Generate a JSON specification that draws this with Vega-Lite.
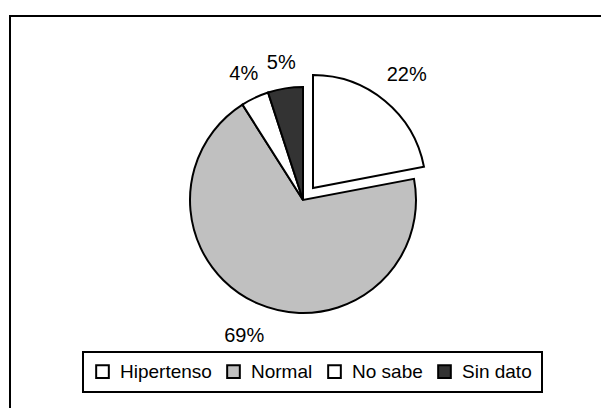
{
  "$schema": "https://vega.github.io/schema/vega-lite/v6.json",
  "width": 600,
  "height": 400,
  "padding": {"left": 9, "top": 15, "right": 0, "bottom": 0},
  "background": "white",
  "config": {
    "view": {"stroke": "black", "strokeWidth": 2},
    "font": "Liberation Sans"
  },
  "data": {
    "values": [
      {"cat": "Hipertenso", "value": 22, "orden": 1, "label": "22%"},
      {"cat": "Normal", "value": 69, "orden": 2, "label": "69%"},
      {"cat": "No sabe", "value": 4, "orden": 3, "label": "4%"},
      {"cat": "Sin dato", "value": 5, "orden": 4, "label": "5%"}
    ]
  },
  "transform": [
    {"stack": "value", "groupby": [], "sort": [{"field": "orden", "order": "ascending"}], "as": ["v0", "v1"]}
  ],
  "layer": [
    {
      "data": {"values": [{"frame": "marco"}]},
      "mark": {"type": "rect", "fill": "white", "fillOpacity": 0, "stroke": "black", "strokeWidth": 2},
      "encoding": {}
    },
    {
      "transform": [{"filter": "datum.cat != 'Hipertenso'"}],
      "mark": {"type": "arc", "radius": 113, "stroke": "black", "strokeWidth": 2, "strokeJoin": "miter", "xOffset": -7, "yOffset": -16},
      "encoding": {
        "theta": {"field": "v0", "type": "quantitative", "scale": {"domain": [0, 100]}},
        "theta2": {"field": "v1"},
        "color": {
          "field": "cat",
          "type": "nominal",
          "scale": {"domain": ["Hipertenso", "Normal", "No sabe", "Sin dato"], "range": ["#FFFFFF", "#C0C0C0", "#FFFFFF", "#333333"]},
          "legend": {
            "title": null,
            "orient": "none",
            "direction": "horizontal",
            "legendX": 73,
            "legendY": 336,
            "strokeColor": "black",
            "padding": 10,
            "symbolType": "square",
            "symbolSize": 160,
            "symbolStrokeColor": "black",
            "symbolStrokeWidth": 2,
            "labelFont": "Liberation Sans",
            "labelFontSize": 19,
            "labelColor": "black",
            "labelOffset": 8,
            "columnPadding": 11,
            "labelLimit": 300,
            "encode": {"legend": {"update": {"strokeWidth": {"value": 2}}}}
          }
        }
      }
    },
    {
      "transform": [{"filter": "datum.cat == 'Hipertenso'"}],
      "mark": {"type": "arc", "radius": 113, "stroke": "black", "strokeWidth": 2, "strokeJoin": "miter", "xOffset": 3, "yOffset": -28},
      "encoding": {
        "theta": {"field": "v0", "type": "quantitative", "scale": {"domain": [0, 100]}},
        "theta2": {"field": "v1"},
        "color": {"field": "cat", "type": "nominal"}
      }
    },
    {
      "mark": {"type": "text", "radius": 148, "fontSize": 20, "font": "Liberation Sans", "color": "black", "xOffset": -7, "yOffset": -16},
      "encoding": {
        "theta": {"field": "value", "type": "quantitative", "stack": true, "scale": {"domain": [0, 100]}},
        "order": {"field": "orden", "type": "quantitative"},
        "text": {"condition": {"test": "datum.cat == 'Normal'", "field": "label", "type": "nominal"}, "value": ""}
      }
    },
    {
      "mark": {"type": "text", "radius": 139, "fontSize": 20, "font": "Liberation Sans", "color": "black", "xOffset": -7, "yOffset": -16},
      "encoding": {
        "theta": {"field": "value", "type": "quantitative", "stack": true, "scale": {"domain": [0, 100]}},
        "order": {"field": "orden", "type": "quantitative"},
        "text": {"condition": {"test": "datum.cat == 'No sabe' || datum.cat == 'Sin dato'", "field": "label", "type": "nominal"}, "value": ""}
      }
    },
    {
      "mark": {"type": "text", "radius": 147, "fontSize": 20, "font": "Liberation Sans", "color": "black", "xOffset": 3, "yOffset": -28},
      "encoding": {
        "theta": {"field": "value", "type": "quantitative", "stack": true, "scale": {"domain": [0, 100]}},
        "order": {"field": "orden", "type": "quantitative"},
        "text": {"condition": {"test": "datum.cat == 'Hipertenso'", "field": "label", "type": "nominal"}, "value": ""}
      }
    }
  ]
}
